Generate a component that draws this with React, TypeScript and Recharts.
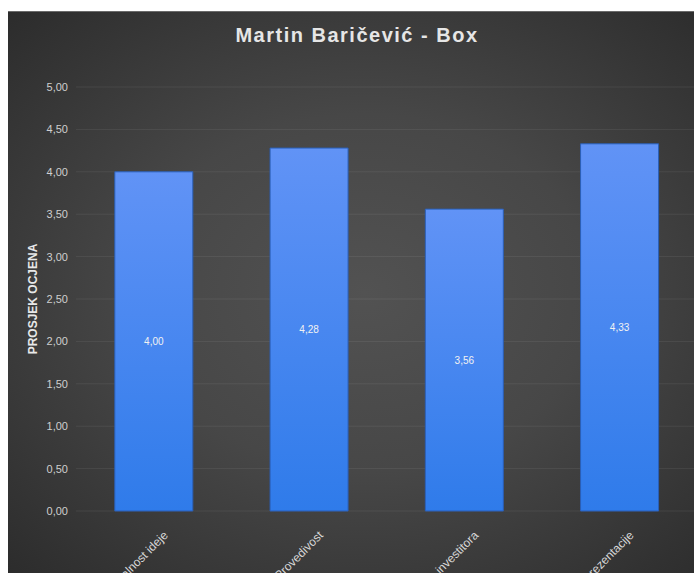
import React from 'react';
import { BarChart, Bar, XAxis, YAxis, CartesianGrid, LabelList } from 'recharts';

const categories = ['Originalnost ideje', 'Provedivost', 'Privlačnost za investitora', 'Kvaliteta prezentacije'];
const scores = [4.0, 4.28, 3.56, 4.33];
const yTicks = [0, 0.5, 1, 1.5, 2, 2.5, 3, 3.5, 4, 4.5, 5];

const data = categories.map((name, i) => ({ name, score: scores[i] }));

const fmt = (v: number) => v.toFixed(2).replace('.', ',');

const font = '"Liberation Sans", Arial, sans-serif';

function AngledTick(props: any) {
  const { x, y, payload } = props;
  const ax = x + 15;
  const ay = y + 17;
  return (
    <text
      x={ax}
      y={ay}
      transform={`rotate(-45, ${ax}, ${ay})`}
      textAnchor="end"
      fill="#d8d8d8"
      fontSize={12}
      fontFamily={font}
    >
      {payload.value}
    </text>
  );
}

export default function App() {
  return (
    <div
      style={{
        position: 'absolute',
        left: 8,
        top: 11,
        width: 686,
        height: 562,
        overflow: 'hidden',
        background: 'radial-gradient(ellipse at 52% 50%, #525252 0%, #474747 45%, #2c2c2c 100%)',
        borderTop: '1px solid #6a6a6a',
        fontFamily: font,
      }}
    >
      <div
        style={{
          position: 'absolute',
          left: 0,
          top: 11,
          width: 698,
          textAlign: 'center',
          color: '#e6e6e6',
          fontSize: 20,
          fontWeight: 'bold',
          letterSpacing: 1.5,
          lineHeight: '24px',
        }}
      >
        Martin Baričević - Box
      </div>
      <BarChart
        width={720}
        height={600}
        data={data}
        margin={{ top: 75, right: 31, left: 8, bottom: 0 }}
        barCategoryGap="25%"
      >
        <defs>
          <linearGradient id="barGrad" x1="0" y1="0" x2="0" y2="1">
            <stop offset="0%" stopColor="#6193f6" />
            <stop offset="100%" stopColor="#2f7bea" />
          </linearGradient>
        </defs>
        <CartesianGrid vertical={false} stroke="rgba(255,255,255,0.07)" />
        <XAxis
          dataKey="name"
          height={101}
          axisLine={false}
          tickLine={false}
          interval={0}
          tick={<AngledTick />}
        />
        <YAxis
          domain={[0, 5]}
          ticks={yTicks}
          width={60}
          axisLine={false}
          tickLine={false}
          tickFormatter={fmt}
          tick={{ fill: '#cfcfcf', fontSize: 11, fontFamily: font }}
          label={{
            value: 'PROSJEK OCJENA',
            angle: -90,
            position: 'insideLeft',
            offset: 17,
            style: { fill: '#e8e8e8', fontSize: 12, fontWeight: 'bold', fontFamily: font, textAnchor: 'middle' },
          }}
        />
        <Bar dataKey="score" fill="url(#barGrad)" stroke="#2a5fb8" strokeWidth={1} isAnimationActive={false}>
          <LabelList
            dataKey="score"
            position="center"
            formatter={(v: any) => fmt(Number(v))}
            fill="#f2f2f2"
            fontSize={10}
            fontFamily={font}
          />
        </Bar>
      </BarChart>
    </div>
  );
}
